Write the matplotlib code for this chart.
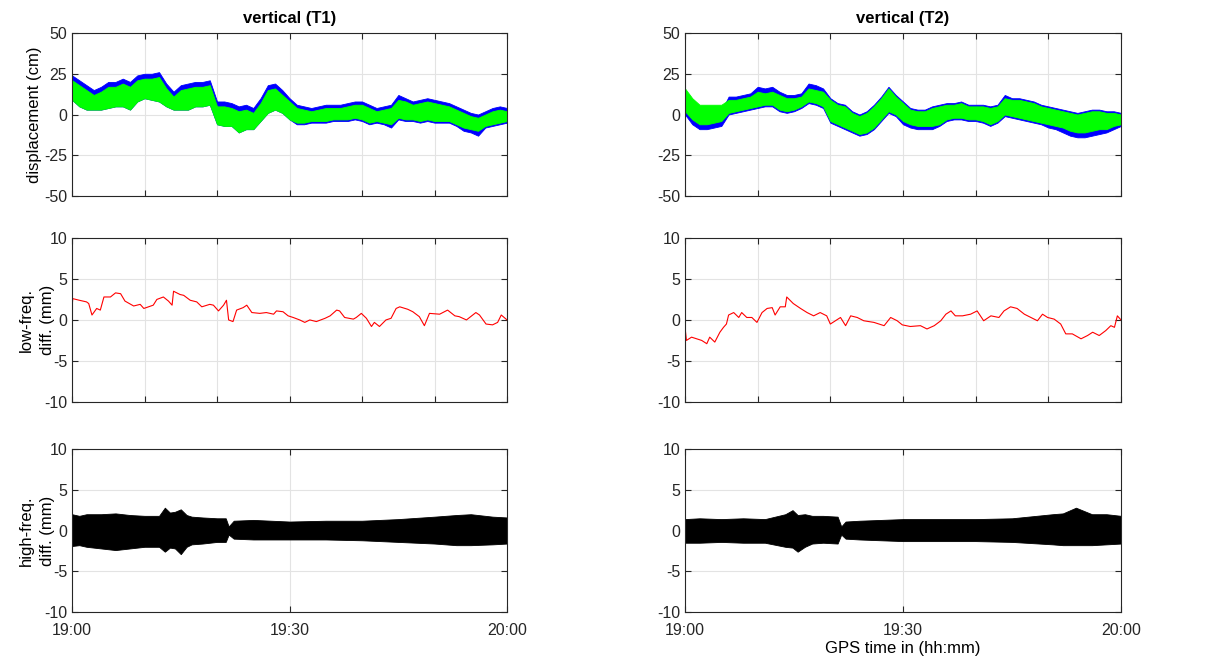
import matplotlib
matplotlib.use("Agg")
import matplotlib.pyplot as plt
import numpy as np

plt.rcParams['font.family'] = ['Liberation Sans', 'DejaVu Sans']
plt.rcParams['axes.unicode_minus'] = False

################
# Data (time in minutes after 19:00)
################
minutes = list(range(0, 61))

# vertical displacement, station T1 (cm) - envelopes of the noisy traces
t1_blue_top = [24, 21, 18, 15, 17, 20, 20, 22, 20, 24, 25, 25, 26, 19, 14, 18, 19, 20, 20, 21,
               8, 8, 7, 5, 6, 4, 10, 18, 19, 15, 10, 6, 5, 4, 5, 6, 6, 6, 7, 8,
               8, 6, 4, 5, 6, 12, 10, 8, 9, 10, 9, 8, 7, 5, 3, 1, 0, 2, 4, 5, 4]
t1_blue_bot = [9, 5, 3, 3, 3, 4, 5, 5, 3, 8, 10, 9, 8, 5, 3, 3, 3, 5, 5, 6,
               -6, -7, -7, -11, -9, -9, -4, 1, 3, 1, -3, -6, -6, -5, -5, -5, -4, -4, -4, -3,
               -4, -6, -5, -6, -8, -3, -4, -4, -5, -4, -5, -5, -5, -7, -10, -11, -13, -8, -7, -6, -5]
t1_green_top = [21, 18, 15, 12, 14, 17, 17, 19, 17, 21, 22, 22, 23, 16, 11, 15, 16, 17, 17, 18,
                5, 5, 4, 2, 3, 1, 7, 15, 16, 12, 8, 4, 3, 2, 3, 4, 4, 4, 5, 6,
                6, 4, 2, 3, 4, 9, 8, 6, 7, 8, 7, 6, 5, 3, 1, -1, -2, 0, 2, 3, 2]
t1_green_bot = [9, 5, 3, 3, 3, 4, 5, 5, 3, 8, 10, 9, 8, 5, 3, 3, 3, 5, 5, 6,
                -6, -7, -7, -11, -9, -9, -4, 1, 3, 1, -3, -5, -5, -4, -4, -4, -3, -3, -3, -2,
                -3, -5, -4, -5, -6, -2, -3, -3, -4, -3, -4, -4, -4, -6, -8, -9, -10, -7, -6, -5, -4]

# vertical displacement, station T2 (cm)
t2_blue_top = [8, 4, 1, 1, 1, 2, 11, 11, 12, 13, 17, 16, 17, 14, 12, 12, 13, 19, 18, 16,
               10, 7, 6, 2, 0, 2, 6, 11, 17, 12, 8, 4, 3, 3, 5, 6, 7, 7, 8, 6,
               6, 6, 5, 6, 12, 10, 10, 9, 8, 6, 5, 4, 3, 2, 1, 2, 3, 3, 2, 2, 1]
t2_blue_bot = [0, -6, -9, -9, -8, -7, 0, 1, 2, 3, 4, 5, 5, 2, 1, 2, 4, 7, 6, 4,
               -5, -7, -9, -11, -13, -12, -9, -4, 1, -1, -6, -8, -9, -9, -9, -7, -4, -3, -3, -4,
               -4, -5, -7, -5, -1, -2, -3, -4, -5, -6, -8, -9, -11, -13, -14, -14, -13, -12, -11, -9, -7]
t2_green_top = [16, 10, 6, 6, 6, 6, 9, 9, 10, 11, 14, 13, 14, 12, 10, 10, 11, 16, 15, 14,
                9, 6, 5, 1, -1, 1, 5, 10, 16, 11, 7, 3, 2, 2, 4, 5, 6, 6, 7, 5,
                5, 5, 4, 5, 10, 9, 9, 8, 7, 5, 4, 3, 2, 1, 0, 1, 2, 2, 1, 1, 0]
t2_green_bot = [2, -3, -6, -6, -5, -4, 1, 2, 3, 4, 5, 6, 6, 3, 2, 3, 5, 8, 7, 5,
                -4, -6, -8, -10, -12, -11, -8, -3, 2, 0, -4, -6, -7, -7, -7, -6, -3, -2, -2, -3,
                -3, -4, -6, -4, 0, -1, -2, -3, -4, -5, -6, -7, -8, -10, -11, -11, -10, -9, -9, -7, -6]

# low-frequency difference (mm)
lf1_time = [0.0, 0.1, 1.0, 2.0, 2.3, 2.75, 3.4, 3.9, 4.4, 5.3, 6.0, 6.7, 7.3, 8.5, 9.4, 9.9, 11.2, 11.7,
            12.6, 13.3, 13.8, 14.0, 14.9, 15.4, 16.3, 17.2, 17.9, 19.0, 19.5, 20.2, 20.9, 21.3, 21.6,
            22.2, 22.7, 23.6, 24.1, 24.8, 25.9, 26.8, 27.8, 28.2, 29.1, 29.8, 30.5, 31.4, 32.1, 32.8,
            33.7, 34.9, 35.6, 36.5, 36.9, 37.6, 38.8, 39.2, 39.9, 40.6, 41.3, 41.7, 42.4, 43.3, 44.0,
            44.7, 45.2, 46.3, 47.0, 47.9, 48.6, 49.3, 50.7, 51.8, 52.8, 53.4, 54.4, 55.7, 56.2, 57.1,
            58.0, 58.7, 59.2, 60.0]
lf1_value = [1.5, 2.6, 2.4, 2.2, 2.0, 0.6, 1.4, 1.2, 2.8, 2.8, 3.3, 3.2, 2.3, 1.7, 1.9, 1.4, 1.8, 2.5,
             2.8, 2.3, 1.8, 3.5, 3.1, 3.0, 2.4, 2.2, 1.6, 1.9, 1.8, 1.1, 1.8, 2.4, 0.0,
             -0.2, 1.2, 1.5, 1.8, 0.9, 0.8, 0.9, 0.7, 1.1, 1.0, 0.5, 0.3, 0.0, -0.3, 0.0,
             -0.2, 0.2, 0.5, 1.2, 1.1, 0.3, 0.1, 0.3, 0.8, 0.2, -0.8, -0.3, -0.8, 0.0, 0.2,
             1.4, 1.6, 1.3, 1.0, 0.4, -0.7, 0.8, 0.7, 1.2, 0.5, 0.4, 0.0, 0.9, 0.6, -0.5,
             -0.6, -0.3, 0.6, 0.0]

lf2_time = [0.0, 0.2, 0.9, 1.6, 2.3, 3.0, 3.4, 4.1, 4.8, 5.3, 5.7, 6.0, 6.7, 7.4, 7.8, 8.5, 9.2, 9.9,
            10.6, 11.3, 12.0, 12.4, 13.1, 13.8, 14.0, 14.9, 15.9, 16.8, 17.7, 18.6, 19.5, 20.0, 20.7,
            21.4, 22.1, 22.8, 23.7, 24.6, 26.0, 27.4, 28.3, 29.2, 29.9, 31.0, 32.4, 33.3, 34.3, 35.2,
            35.9, 36.6, 37.2, 38.2, 39.3, 40.2, 41.1, 42.1, 43.2, 43.9, 44.8, 45.7, 46.7, 47.6, 48.5,
            49.2, 49.9, 50.8, 51.7, 52.4, 53.3, 54.5, 55.4, 56.1, 57.0, 57.9, 58.6, 59.1, 59.5, 60.0]
lf2_value = [-0.9, -2.5, -2.1, -2.3, -2.5, -2.9, -2.1, -2.7, -1.5, -0.9, -0.5, 0.6, 0.9, 0.3, 0.9, 0.3, 0.3, -0.3,
             0.9, 1.4, 1.5, 0.6, 1.6, 1.6, 2.8, 2.0, 1.4, 0.9, 0.5, 0.9, 0.5, -0.5, -0.1,
             0.3, -0.7, 0.5, 0.3, -0.1, -0.3, -0.7, 0.3, -0.1, -0.6, -0.8, -0.7, -1.1, -0.7, -0.1,
             0.7, 1.1, 0.5, 0.5, 0.7, 1.1, -0.1, 0.5, 0.3, 1.1, 1.6, 1.4, 0.7, 0.3, -0.1,
             0.7, 0.3, 0.1, -0.5, -1.7, -1.7, -2.3, -1.9, -1.5, -1.9, -1.3, -0.7, -0.9, 0.5, 0.0]

# high-frequency difference (mm) - envelopes
hf1_time = [0, 1, 2, 4, 6, 8, 10, 12, 12.8, 13.5, 14.2, 15, 15.8, 16.5, 18, 20, 21.2, 21.6, 22.3,
            25, 30, 35, 40, 45, 50, 53, 55, 58, 60]
hf1_top = [2.0, 1.8, 2.0, 2.0, 2.1, 1.9, 1.8, 1.8, 2.8, 2.2, 2.3, 2.6, 1.9, 1.7, 1.6, 1.5, 1.5, 0.5, 1.2,
           1.3, 1.1, 1.2, 1.2, 1.4, 1.7, 1.9, 2.0, 1.7, 1.6]
hf1_bot = [-1.9, -1.8, -2.0, -2.2, -2.4, -2.2, -2.0, -2.0, -2.6, -2.1, -2.2, -2.9, -2.0, -1.7, -1.6, -1.4, -1.4, -0.5, -1.0,
           -1.1, -1.1, -1.1, -1.2, -1.4, -1.6, -1.8, -1.8, -1.7, -1.6]

hf2_time = [0, 2, 5, 8, 11, 13.8, 14.8, 15.5, 16.5, 17.5, 19, 21.0, 21.5, 22.1, 24, 27, 30, 35, 40, 45,
            50.6, 52, 53.8, 56, 58, 60]
hf2_top = [1.4, 1.5, 1.4, 1.5, 1.4, 2.0, 2.5, 1.9, 2.0, 1.8, 1.8, 1.7, 0.5, 1.1, 1.2, 1.3, 1.4, 1.4, 1.4, 1.5,
           2.0, 2.1, 2.8, 2.0, 2.0, 1.8]
hf2_bot = [-1.5, -1.5, -1.4, -1.5, -1.5, -2.0, -2.1, -2.6, -2.0, -1.6, -1.5, -1.6, -0.5, -1.0, -1.1, -1.2, -1.3, -1.3, -1.3, -1.4,
           -1.7, -1.8, -1.8, -1.8, -1.7, -1.6]

time_tick_labels = ["19:00", "19:30", "20:00"]


def style_axes(ax, ylim, yticks, bottom_row):
    ax.set_xlim(0, 60)
    ax.set_ylim(ylim)
    ax.set_yticks(yticks)
    ax.set_yticklabels([str(v) for v in yticks])
    if bottom_row:
        ax.set_xticks([0, 30, 60])
        ax.set_xticklabels(time_tick_labels)
    else:
        ax.set_xticks(range(0, 61, 10))
        ax.set_xticklabels([])
    ax.tick_params(direction='in', top=True, right=True, length=4, width=0.8,
                   labelsize=11.5, colors='#262626')
    ax.tick_params(axis='x', pad=8)
    for s in ax.spines.values():
        s.set_color('#262626')
        s.set_linewidth(0.8)
    ax.grid(True, color='#e3e3e3', linewidth=0.8)
    ax.set_axisbelow(True)


fig = plt.figure(figsize=(12.23, 6.6), dpi=100)

# left column x0, right column x0, widths (figure fractions)
cols = [(0.0589, 0.3557), (0.5601, 0.3565)]
rows = [(0.703, 0.247), (0.391, 0.2485), (0.0727, 0.247)]

axes = [[fig.add_axes([c[0], r[0], c[1], r[1]]) for c in cols] for r in rows]

# top row: displacement
for j, (bt, bb, gt, gb) in enumerate([(t1_blue_top, t1_blue_bot, t1_green_top, t1_green_bot),
                                      (t2_blue_top, t2_blue_bot, t2_green_top, t2_green_bot)]):
    ax = axes[0][j]
    ax.fill_between(minutes, bb, bt, color='#0000ff', linewidth=0.6, edgecolor='#0000ff')
    ax.fill_between(minutes, gb, gt, color='#00ff00', linewidth=0.6, edgecolor='#00ff00')
    style_axes(ax, (-50, 50), [-50, -25, 0, 25, 50], False)
axes[0][0].set_title("vertical (T1)", fontsize=12, fontweight='bold', pad=7)
axes[0][1].set_title("vertical (T2)", fontsize=12, fontweight='bold', pad=7)
axes[0][0].set_ylabel("displacement (cm)", fontsize=12)
axes[0][0].yaxis.set_label_coords(-0.068, 0.5)

# middle row: low-freq. difference
axes[1][0].plot(lf1_time, lf1_value, color='red', linewidth=0.8)
axes[1][1].plot(lf2_time, lf2_value, color='red', linewidth=0.8)
for ax in axes[1]:
    style_axes(ax, (-10, 10), [-10, -5, 0, 5, 10], False)
axes[1][0].set_ylabel("low-freq.\ndiff. (mm)", fontsize=12, linespacing=1.5)
axes[1][0].yaxis.set_label_coords(-0.04, 0.5)

# bottom row: high-freq. difference
axes[2][0].fill_between(hf1_time, hf1_bot, hf1_top, color='black', linewidth=0.6)
axes[2][1].fill_between(hf2_time, hf2_bot, hf2_top, color='black', linewidth=0.6)
for ax in axes[2]:
    style_axes(ax, (-10, 10), [-10, -5, 0, 5, 10], True)
    ax.grid(False)
    ax.grid(True, axis='y', color='#e3e3e3', linewidth=0.8)
    ax.axvline(30, color='#e3e3e3', linewidth=0.8, zorder=0)
axes[2][0].set_ylabel("high-freq.\ndiff. (mm)", fontsize=12, linespacing=1.5)
axes[2][0].yaxis.set_label_coords(-0.04, 0.5)
axes[2][1].set_xlabel("GPS time in (hh:mm)", fontsize=12, labelpad=2)

plt.savefig("out.png", dpi=100)
